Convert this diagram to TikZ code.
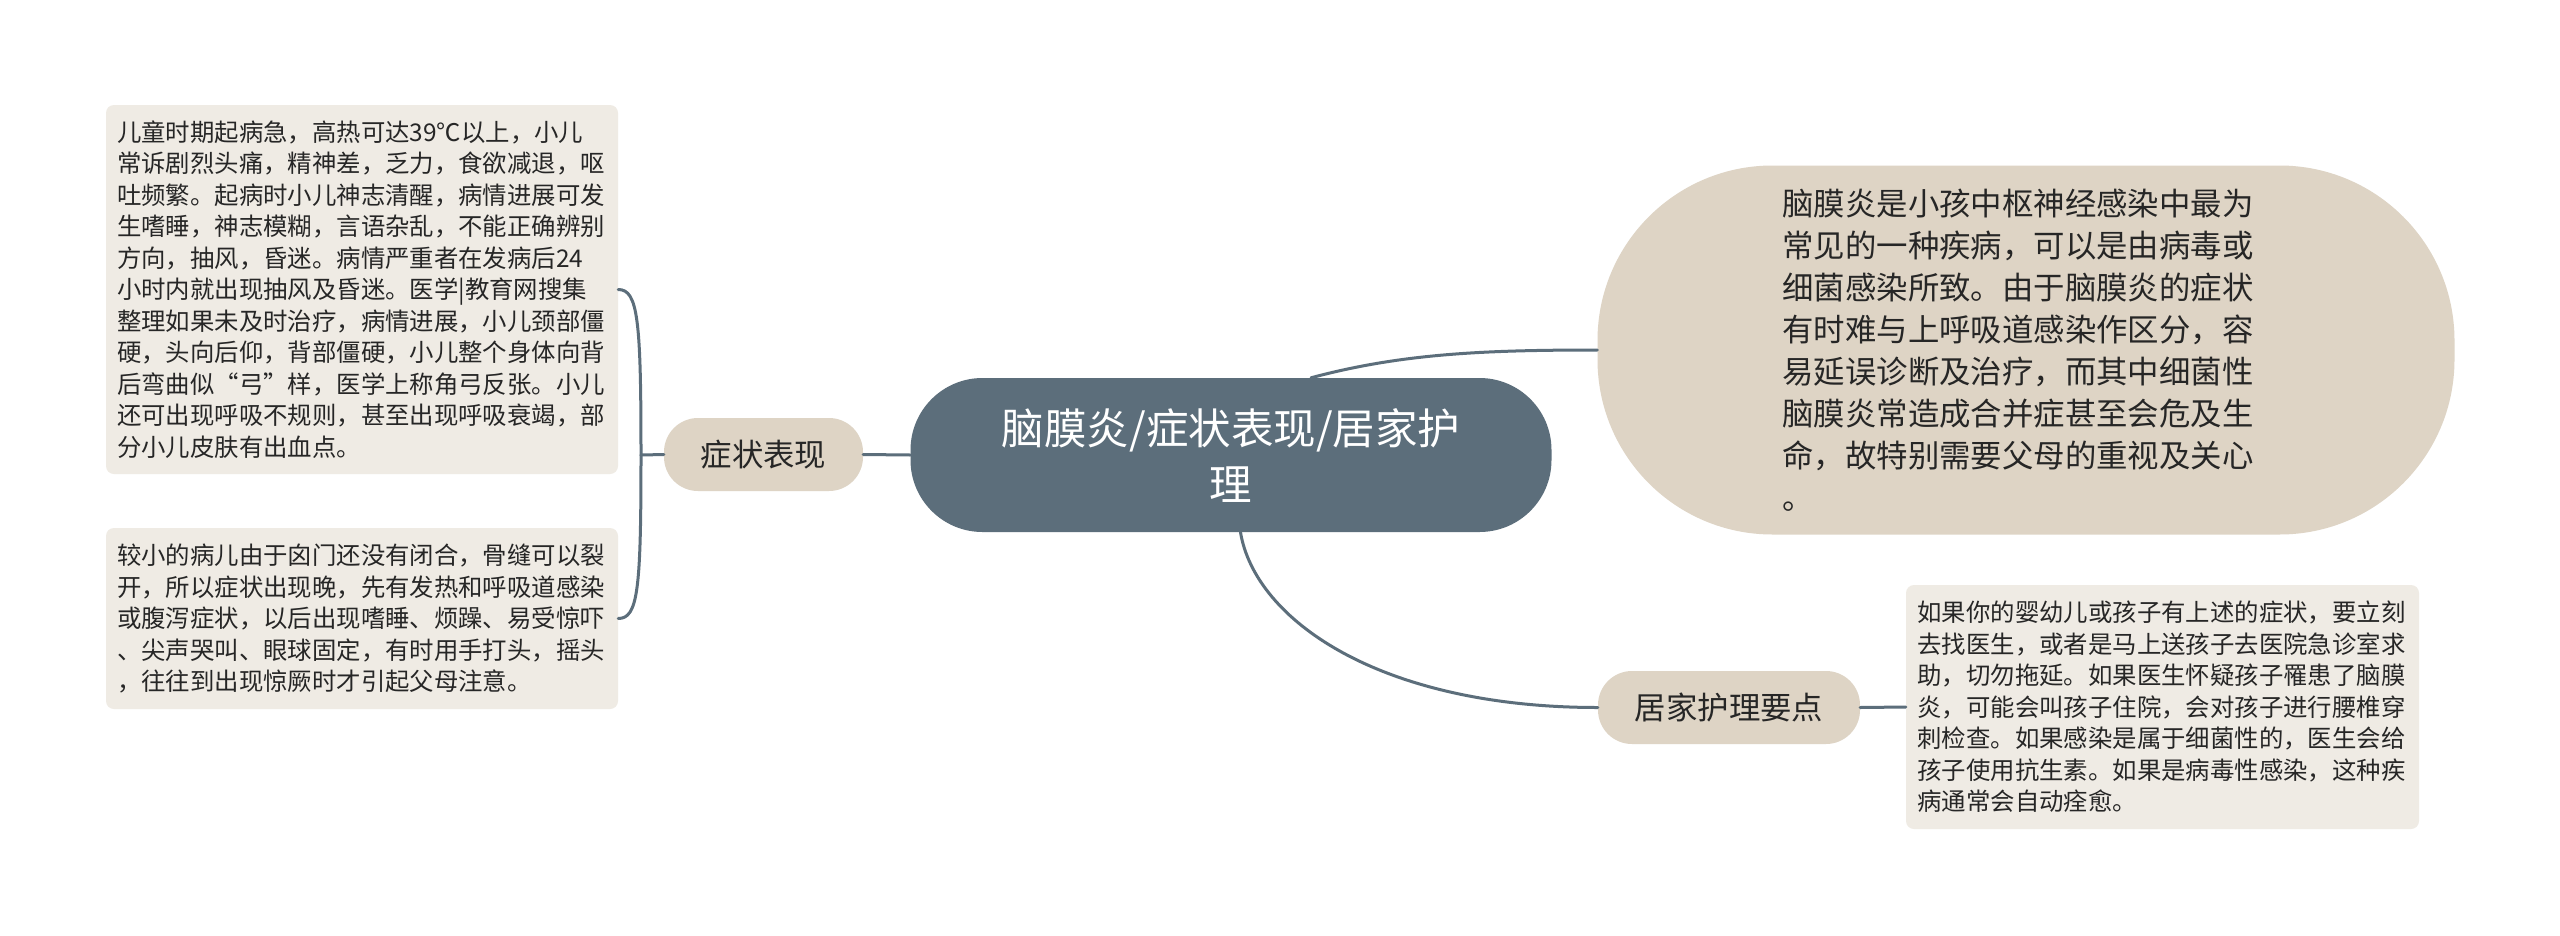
\documentclass[tikz,border=0pt]{standalone}
\usepackage{fontspec}
\usepackage{tikz}
\newfontfamily\cjk{Noto Sans CJK SC}
\definecolor{slate}{HTML}{5C6E7B}
\definecolor{sand}{HTML}{DED4C5}
\definecolor{paper}{HTML}{EFEBE4}
\definecolor{ink}{HTML}{262626}

\begin{document}
\begin{tikzpicture}[line cap=round,line join=round,x=1pt,y=-1pt,
  link/.style={draw=slate,line width=3pt},
  leaf/.style={fill=paper,rounded corners=8pt,text=ink,align=left,inner sep=0pt,
    text width=490pt,minimum width=512pt,font=\cjk\fontsize{24.4}{31.5}\selectfont},
  topic/.style={fill=sand,rounded corners=34pt,text=ink,inner sep=0pt,
    minimum height=73pt,font=\cjk\fontsize{31.4}{42}\selectfont}]

\fill[white] (0,0) rectangle (2560,935);
\useasboundingbox (0,0) rectangle (2560,935);

% root
\node[fill=slate,rounded corners=72pt,minimum width=641pt,minimum height=154pt,
  inner sep=0pt,text=white,align=center,font=\cjk\fontsize{42.5}{56}\selectfont]
  (root) at (1231,455) {脑膜炎/症状表现/居家护\\理};

% left branch
\node[topic,minimum width=199pt] (sym) at (763.5,454.5) {症状表现};
\node[leaf,minimum height=369pt] (symA) at (362,289.5) {儿童时期起病急，高热可达39℃以上，小儿\\常诉剧烈头痛，精神差，乏力，食欲减退，呕\\吐频繁。起病时小儿神志清醒，病情进展可发\\生嗜睡，神志模糊，言语杂乱，不能正确辨别\\方向，抽风，昏迷。病情严重者在发病后24\\小时内就出现抽风及昏迷。医学|教育网搜集\\整理如果未及时治疗，病情进展，小儿颈部僵\\硬，头向后仰，背部僵硬，小儿整个身体向背\\后弯曲似“弓”样，医学上称角弓反张。小儿\\还可出现呼吸不规则，甚至出现呼吸衰竭，部\\分小儿皮肤有出血点。};
\node[leaf,minimum height=181pt] (symB) at (362,618.5) {较小的病儿由于囟门还没有闭合，骨缝可以裂\\开，所以症状出现晚，先有发热和呼吸道感染\\或腹泻症状，以后出现嗜睡、烦躁、易受惊吓\\、尖声哭叫、眼球固定，有时用手打头，摇头\\，往往到出现惊厥时才引起父母注意。};
\coordinate (symfork) at (641,455);

% right branches
\node[topic,rounded corners=175pt,minimum width=857pt,minimum height=369pt,
  text width=487pt,align=left] (summary) at (2026,350) {脑膜炎是小孩中枢神经感染中最为\\常见的一种疾病，可以是由病毒或\\细菌感染所致。由于脑膜炎的症状\\有时难与上呼吸道感染作区分，容\\易延误诊断及治疗，而其中细菌性\\脑膜炎常造成合并症甚至会危及生\\命，故特别需要父母的重视及关心\\。};
\node[topic,minimum width=262pt] (care) at (1729,707.5) {居家护理要点};
\node[leaf,minimum width=513pt,minimum height=244pt] (careA) at (2162.5,707) {如果你的婴幼儿或孩子有上述的症状，要立刻\\去找医生，或者是马上送孩子去医院急诊室求\\助，切勿拖延。如果医生怀疑孩子罹患了脑膜\\炎，可能会叫孩子住院，会对孩子进行腰椎穿\\刺检查。如果感染是属于细菌性的，医生会给\\孩子使用抗生素。如果是病毒性感染，这种疾\\病通常会自动痊愈。};

\draw[link] (root.west) -- (sym.east);
\draw[link] (sym.west) -- (symfork);
\draw[link] (symfork) .. controls (641,320) and (638,289.5) .. (symA.east);
\draw[link] (symfork) .. controls (641,590) and (638,618.5) .. (symB.east);
\draw[link] (root.44) .. controls (1400,354) and (1480,350) .. (summary.west);
\draw[link] (root.-83) .. controls (1255,620) and (1380,707.5) .. (care.west);
\draw[link] (care.east) -- (careA.west);
\end{tikzpicture}
\end{document}
